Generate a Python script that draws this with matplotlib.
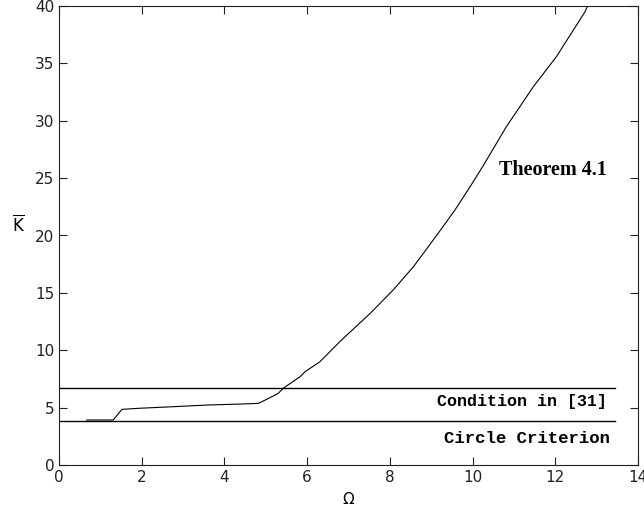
import matplotlib
matplotlib.use('Agg')
import matplotlib.pyplot as plt

# Theorem 4.1 bound vs Omega
omega = [0.67, 1.31, 1.52, 1.92, 2.76, 3.61, 4.46, 4.82, 5.02, 5.30, 5.42,
         5.83, 5.95, 6.31, 6.79, 7.52, 8.08, 8.57, 9.17, 9.57, 9.94, 10.26,
         10.82, 11.47, 12.03, 12.72, 12.78]
k_thm = [3.92, 3.92, 4.85, 4.94, 5.08, 5.23, 5.32, 5.37, 5.72, 6.24, 6.68,
         7.70, 8.13, 9.00, 10.75, 13.2, 15.25, 17.28, 20.2, 22.2, 24.25, 26.1,
         29.5, 32.97, 35.6, 39.5, 40.0]

line_x = [0, 13.45]
k_cond31 = 6.71
k_circle = 3.81

xticks = list(range(0, 15, 2))
yticks = list(range(0, 41, 5))

fig = plt.figure(figsize=(6.44, 5.11), dpi=100)
ax = fig.add_axes([59 / 644, 46 / 511, 579 / 644, 459 / 511])

ax.plot(omega, k_thm, color='black', lw=0.8)
ax.plot(line_x, [k_cond31, k_cond31], color='black', lw=1.0)
ax.plot(line_x, [k_circle, k_circle], color='black', lw=1.0)

ax.text(11.94, 25.7, 'Theorem 4.1', family='Liberation Serif', weight='bold',
        fontsize=14.5, ha='center', va='center')
ax.text(13.24, 5.52, 'Condition in [31]', family='Liberation Mono', weight='bold',
        fontsize=12, ha='right', va='center')
ax.text(13.32, 2.32, 'Circle Criterion', family='Liberation Mono', weight='bold',
        fontsize=12.5, ha='right', va='center')

ax.set_xlim(0, 14)
ax.set_ylim(0, 40)
ax.set_xticks(xticks)
ax.set_yticks(yticks)
ax.tick_params(direction='in', top=True, right=True, labelsize=11, length=6,
               width=0.8, colors='#222222')
for s in ax.spines.values():
    s.set_linewidth(0.8)
    s.set_color('#222222')

ax.set_xlabel('Ω', fontsize=11, labelpad=5)
ax.set_ylabel(r'$\overline{\mathrm{K}}$', fontsize=12, rotation=0, labelpad=12)

fig.savefig('out.png', dpi=100)
